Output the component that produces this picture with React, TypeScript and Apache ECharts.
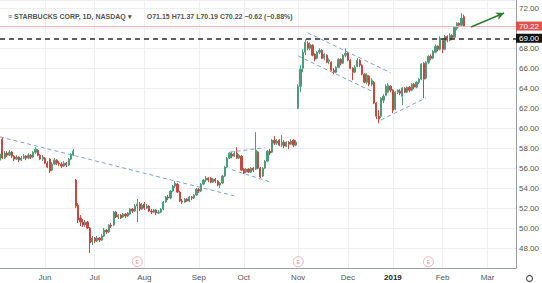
import React, { useEffect, useRef } from 'react';
import * as echarts from 'echarts';

// ---- categories (trading days) ----
const HOLIDAYS = ['2018-05-28', '2018-07-04', '2018-09-03', '2018-11-22', '2018-12-05', '2018-12-25', '2019-01-01', '2019-01-21', '2019-02-18'];
const FIRST_DAY = '2018-05-04';
const LAST_DAY = '2019-03-19';
const MONTH_STARTS = ['2018-06-01', '2018-07-02', '2018-08-01', '2018-09-04', '2018-10-01', '2018-11-01', '2018-12-03', '2019-01-02', '2019-02-01', '2019-03-01'];
const MONTH_LABELS = ['Jun', 'Jul', 'Aug', 'Sep', 'Oct', 'Nov', 'Dec', '2019', 'Feb', 'Mar'];

// ---- OHLC: [open, close, low, high] ----
const OHLC: number[][] = [
  [56.8, 57.4, 56.5, 57.6], [58.9, 57.0, 56.9, 59.1], [57.0, 57.5, 56.9, 57.7], [57.5, 57.3, 57.1, 57.7],
  [57.3, 57.6, 57.2, 57.8], [57.6, 57.2, 57.0, 57.7], [57.2, 56.9, 56.7, 57.3], [56.9, 57.1, 56.8, 57.3],
  [57.1, 56.8, 56.6, 57.2], [56.8, 57.0, 56.7, 57.2], [57.0, 57.2, 56.9, 57.4], [57.2, 57.0, 56.8, 57.3],
  [57.0, 57.3, 56.9, 57.5], [57.3, 57.1, 56.9, 57.4], [57.1, 57.6, 57.0, 57.7], [57.6, 57.9, 57.4, 58.1],
  [57.8, 57.3, 57.2, 57.9], [57.3, 56.9, 56.8, 57.4], [56.9, 57.1, 56.7, 57.3], [57.0, 56.5, 56.4, 57.1],
  [56.5, 56.1, 56.0, 56.7], [56.9, 55.7, 55.5, 57.0], [55.8, 56.4, 55.7, 56.6], [56.4, 56.8, 56.3, 57.0],
  [56.8, 56.5, 56.3, 56.9], [56.5, 56.4, 56.2, 56.7], [56.4, 56.2, 56.0, 56.6], [56.2, 56.5, 56.1, 56.7],
  [56.5, 56.3, 56.1, 56.6], [56.3, 56.9, 56.2, 57.0], [56.9, 57.4, 56.8, 57.5], [57.3, 57.7, 57.2, 57.9],
  [54.8, 52.2, 52.0, 54.9], [52.3, 50.8, 50.5, 52.5], [51.0, 50.6, 50.2, 51.3], [50.6, 50.3, 50.1, 50.9],
  [50.3, 50.6, 50.1, 50.8], [50.6, 50.0, 49.9, 50.7], [50.0, 48.5, 47.5, 50.1], [48.6, 49.0, 48.3, 49.2],
  [49.0, 48.7, 48.5, 49.1], [48.7, 49.0, 48.6, 49.2], [49.0, 48.8, 48.6, 49.1], [48.8, 49.2, 48.7, 49.4],
  [49.2, 49.8, 49.1, 50.0], [49.8, 49.6, 49.4, 49.9], [49.6, 50.3, 49.5, 50.4], [50.3, 50.2, 50.0, 50.5],
  [50.3, 51.6, 50.2, 51.7], [51.6, 51.1, 51.0, 51.7], [51.1, 51.3, 50.9, 51.4], [51.3, 51.0, 50.9, 51.4],
  [51.1, 51.4, 51.0, 51.5], [51.4, 51.2, 51.0, 51.5], [51.2, 51.5, 51.1, 51.6], [51.4, 51.9, 51.3, 52.0],
  [51.9, 51.7, 51.5, 52.0], [51.7, 52.2, 51.6, 52.4], [52.2, 52.4, 50.6, 52.9], [52.4, 51.9, 51.7, 52.6],
  [51.9, 52.3, 51.8, 52.5], [52.4, 52.0, 51.8, 52.6], [52.0, 52.2, 51.9, 52.4], [52.2, 51.7, 51.6, 52.3],
  [51.7, 51.6, 51.4, 51.9], [51.6, 51.8, 51.5, 51.9], [51.8, 51.5, 51.3, 51.9], [51.5, 51.6, 51.4, 51.8],
  [51.6, 51.9, 51.5, 52.0], [51.9, 52.6, 51.8, 52.7], [52.6, 53.1, 52.5, 53.2], [53.1, 53.0, 52.8, 53.3],
  [53.0, 53.7, 52.9, 53.8], [53.7, 54.2, 53.6, 54.3], [54.2, 54.5, 54.0, 54.7], [54.4, 53.6, 53.5, 54.5],
  [53.6, 52.7, 52.6, 53.7], [52.7, 52.6, 52.4, 52.9], [52.6, 52.9, 52.5, 53.0], [52.9, 52.7, 52.6, 53.0],
  [52.7, 53.1, 52.6, 53.2], [53.1, 53.0, 52.8, 53.2], [53.0, 53.3, 52.9, 53.4], [53.3, 53.9, 53.2, 54.0],
  [53.9, 53.7, 53.5, 54.0], [53.7, 54.4, 53.6, 54.5], [54.4, 54.8, 54.3, 54.9], [54.8, 55.0, 54.6, 55.2],
  [55.0, 54.8, 54.6, 55.1], [55.0, 54.6, 54.5, 55.1], [54.6, 54.9, 54.5, 55.0], [54.9, 54.7, 54.5, 55.0],
  [54.7, 54.3, 54.2, 54.8], [54.3, 54.5, 54.0, 54.6], [54.5, 55.2, 54.4, 55.3], [55.2, 56.1, 55.1, 56.2],
  [56.1, 57.0, 56.0, 57.1], [57.0, 57.5, 56.9, 57.6], [57.4, 57.2, 57.0, 57.6], [57.2, 57.5, 57.1, 57.7],
  [57.5, 57.0, 56.9, 58.1], [57.0, 57.3, 56.9, 57.4], [57.2, 55.8, 55.7, 57.3], [55.9, 55.5, 55.4, 56.0],
  [55.6, 55.9, 55.5, 56.0], [55.9, 55.6, 55.5, 56.0], [55.6, 56.0, 55.5, 56.1], [56.0, 55.8, 55.6, 56.1],
  [55.9, 57.8, 55.8, 59.6], [57.6, 56.0, 55.9, 57.7], [56.0, 55.1, 55.0, 56.1], [55.2, 56.0, 55.1, 56.1],
  [56.0, 56.7, 55.9, 56.8], [56.7, 57.7, 56.6, 57.8], [57.7, 57.5, 57.3, 57.9], [57.6, 58.8, 57.5, 58.9],
  [58.8, 58.5, 58.3, 59.2], [58.5, 58.7, 58.3, 58.9], [58.8, 58.3, 58.2, 58.9], [58.3, 58.6, 58.1, 59.3],
  [58.6, 58.2, 58.0, 58.8], [58.2, 58.6, 58.1, 58.7], [58.6, 58.4, 57.9, 58.7], [58.4, 58.7, 58.3, 58.9],
  [58.8, 58.3, 58.1, 58.9], [58.3, 58.6, 58.2, 58.8], [62.0, 64.2, 61.9, 64.4], [64.2, 65.9, 63.6, 66.3],
  [66.0, 67.6, 65.6, 67.9], [67.6, 68.6, 67.3, 68.9], [68.5, 68.0, 67.8, 68.7], [68.0, 68.4, 67.8, 68.6],
  [68.3, 67.3, 67.2, 68.4], [67.4, 66.9, 66.7, 67.5], [67.0, 67.6, 66.9, 67.7], [67.6, 67.8, 67.4, 68.0],
  [67.8, 67.0, 66.9, 67.9], [67.0, 67.4, 66.8, 67.5], [67.3, 66.6, 66.5, 67.4], [66.7, 66.8, 66.4, 67.0],
  [66.6, 65.8, 65.7, 66.7], [65.8, 65.6, 65.4, 66.0], [65.6, 66.1, 65.5, 66.2], [66.1, 66.9, 66.0, 67.0],
  [66.9, 66.5, 66.3, 67.0], [66.5, 67.3, 66.4, 67.4], [67.3, 67.5, 67.1, 68.0], [67.5, 66.8, 66.7, 67.6],
  [66.8, 66.0, 65.9, 66.9], [66.0, 65.6, 64.8, 66.1], [65.6, 66.1, 65.5, 66.3], [66.2, 66.8, 66.1, 67.0],
  [66.8, 66.3, 66.1, 66.9], [66.3, 65.4, 65.3, 66.4], [65.4, 64.6, 64.5, 65.5], [64.6, 65.3, 64.4, 65.5],
  [65.2, 64.4, 64.2, 65.3], [64.4, 64.8, 64.2, 65.0], [64.6, 62.5, 62.4, 64.7], [62.5, 61.2, 60.9, 62.6],
  [61.2, 60.9, 60.5, 61.8], [61.2, 63.0, 61.0, 63.1], [62.8, 63.2, 62.5, 63.4], [63.3, 64.2, 63.2, 64.4],
  [63.6, 64.3, 63.5, 64.5], [64.2, 63.8, 63.6, 64.3], [63.8, 61.8, 61.5, 63.9], [61.9, 63.6, 61.8, 63.7],
  [63.6, 63.8, 63.4, 63.9], [63.7, 63.5, 63.3, 63.9], [63.2, 64.0, 62.3, 64.1], [64.0, 63.6, 63.5, 64.1],
  [63.6, 64.1, 63.5, 64.2], [64.1, 63.8, 63.6, 64.2], [63.8, 64.4, 63.7, 64.5], [64.4, 64.1, 63.9, 64.5],
  [64.1, 64.6, 64.0, 64.7], [64.6, 64.9, 64.4, 65.0], [64.9, 66.4, 64.8, 66.5], [66.5, 64.9, 63.0, 66.6],
  [65.0, 66.6, 64.9, 66.7], [66.6, 67.2, 66.4, 67.3], [67.2, 67.0, 66.8, 67.4], [67.0, 67.7, 66.9, 67.8],
  [67.6, 68.2, 67.5, 68.4], [68.2, 67.9, 67.7, 68.3], [67.9, 69.0, 67.8, 69.2], [68.8, 67.9, 67.5, 68.9],
  [67.9, 69.2, 67.8, 69.3], [69.2, 68.8, 68.6, 69.3], [68.8, 69.3, 68.7, 69.5], [69.3, 69.0, 68.8, 69.4],
  [69.1, 70.1, 69.0, 70.2], [70.0, 70.5, 69.8, 70.6], [70.5, 70.3, 70.1, 70.6], [70.3, 71.0, 70.2, 71.5],
  [71.15, 70.22, 70.19, 71.37],
];

const LAST_PRICE = 70.22;
const RESISTANCE = 69.0;
const Y_MIN = 46;
const Y_MAX = 72.83;
const Y_STEP = 2;

// trendlines: [startIndex, startPrice, endIndex, endPrice]
const TRENDLINES = [
  [0, 59.13, 99, 53.22],
  [97, 57.6, 112, 58.05],
  [98, 55.83, 114, 54.63],
  [130, 69.55, 165, 65.55],
  [126, 67.23, 157, 63.7],
  [161, 60.83, 180, 63.03],
];
const ARROW = [199, 70.13, 213, 71.53];
const EARNINGS_DAYS = [58, 126, 181];
const EARNINGS_Y = 46.63;

const TITLE_NAME = '≡ STARBUCKS CORP, 1D, NASDAQ ▾';
const TITLE_VALUES = 'O71.15 H71.37 L70.19 C70.22 −0.62 (−0.88%)';

function buildTradingDays(first: string, last: string): string[] {
  const out: string[] = [];
  const d = new Date(first + 'T00:00:00Z');
  const end = new Date(last + 'T00:00:00Z').getTime();
  while (d.getTime() <= end) {
    const dow = d.getUTCDay();
    const s = d.toISOString().slice(0, 10);
    if (dow !== 0 && dow !== 6 && HOLIDAYS.indexOf(s) < 0) out.push(s);
    d.setUTCDate(d.getUTCDate() + 1);
  }
  return out;
}

const FONT = 'Liberation Sans, Arial, sans-serif';
const UP = '#4e9b7b';
const DOWN = '#c8483f';

export default function App() {
  const ref = useRef<HTMLDivElement>(null);
  useEffect(() => {
    if (!ref.current) return;
    const chart = echarts.init(ref.current, undefined, { renderer: 'svg' });
    const dates = buildTradingDays(FIRST_DAY, LAST_DAY);
    const isMonth = (_i: number, v: string) => MONTH_STARTS.indexOf(v) >= 0;

    const trendData: any[] = TRENDLINES.map((t) => [
      { coord: [t[0], t[1]], symbol: 'none', lineStyle: { color: '#7ea3d4', type: [4, 3], width: 1 }, label: { show: false } },
      { coord: [t[2], t[3]], symbol: 'none' },
    ]);

    const option: any = {
      animation: false,
      backgroundColor: '#ffffff',
      textStyle: { fontFamily: FONT },
      grid: { left: 0, right: 24, top: 0, bottom: 15, containLabel: false },
      title: {
        text: '{n|' + TITLE_NAME + '}   {v|' + TITLE_VALUES + '}',
        left: 3,
        top: 2,
        textStyle: {
          rich: {
            n: { fontSize: 7, color: '#555', fontFamily: FONT },
            v: { fontSize: 7, color: '#555', fontFamily: FONT },
          },
        },
      },
      xAxis: {
        type: 'category',
        data: dates,
        boundaryGap: false,
        axisLine: { show: true, lineStyle: { color: '#9a9ea8', width: 1 } },
        axisTick: { show: false },
        axisLabel: {
          interval: isMonth,
          margin: 5,
          fontSize: 8,
          color: '#555',
          fontFamily: FONT,
          formatter: (v: string) => {
            const k = MONTH_STARTS.indexOf(v);
            if (k < 0) return '';
            const t = MONTH_LABELS[k];
            return /^\d{4}$/.test(t) ? '{y|' + t + '}' : t;
          },
          rich: { y: { fontSize: 8, color: '#222', fontWeight: 'bold', fontFamily: FONT } },
        },
        splitLine: { show: true, interval: isMonth, lineStyle: { color: '#eceef2', width: 1 } },
      },
      yAxis: {
        type: 'value',
        position: 'right',
        min: Y_MIN,
        max: Y_MAX,
        interval: Y_STEP,
        scale: true,
        axisLine: { show: true, lineStyle: { color: '#9a9ea8', width: 1 } },
        axisTick: { show: false },
        axisLabel: {
          margin: 3,
          fontSize: 8,
          color: '#555',
          fontFamily: FONT,
          formatter: (v: number) => {
            const r = Math.round(v);
            if (Math.abs(v - r) > 1e-6 || r % 2 !== 0 || r <= Y_MIN || r === 70) return '';
            return v.toFixed(2);
          },
        },
        splitLine: { show: true, lineStyle: { color: '#eceef2', width: 1 } },
      },
      series: [
        {
          type: 'candlestick',
          data: OHLC,
          barWidth: 1.7,
          itemStyle: { color: UP, color0: DOWN, borderColor: UP, borderColor0: DOWN, borderWidth: 1 },
          markLine: {
            silent: true,
            symbol: ['none', 'none'],
            animation: false,
            label: { show: false },
            data: [
              {
                yAxis: LAST_PRICE,
                lineStyle: { color: '#f3b3b0', type: 'solid', width: 1 },
                label: {
                  show: true, position: 'end', distance: 0, formatter: LAST_PRICE.toFixed(2),
                  backgroundColor: '#e2504c', color: '#fff', fontSize: 8, padding: [1, 3, 0, 3], fontFamily: FONT,
                },
              },
              {
                yAxis: RESISTANCE,
                lineStyle: { color: '#2b2b2b', type: [5, 4], width: 1.5 },
                label: {
                  show: true, position: 'end', distance: 0, formatter: RESISTANCE.toFixed(2),
                  backgroundColor: '#131313', color: '#fff', fontSize: 8, padding: [1, 3, 0, 3], fontFamily: FONT,
                },
              },
              ...trendData,
              [
                { coord: [ARROW[0], ARROW[1]], symbol: 'none', lineStyle: { color: '#2e7d32', type: 'solid', width: 1.6 }, label: { show: false } },
                { coord: [ARROW[2], ARROW[3]], symbol: 'arrow', symbolSize: [6, 8] },
              ],
            ],
          },
        },
        {
          type: 'scatter',
          data: EARNINGS_DAYS.map((i) => [i, EARNINGS_Y]),
          symbol: 'circle',
          symbolSize: 10,
          itemStyle: { color: '#ffffff', borderColor: '#eea0a0', borderWidth: 1 },
          label: { show: true, position: 'inside', formatter: 'E', fontSize: 5, color: '#e07070', fontFamily: FONT },
          silent: true,
          z: 5,
        },
      ],
      graphic: [
        { type: 'circle', left: 524, top: 273, shape: { r: 3 }, style: { fill: 'none', stroke: '#555', lineWidth: 1.2 } },
      ],
    };
    chart.setOption(option);
    return () => chart.dispose();
  }, []);
  return <div ref={ref} style={{ width: 542, height: 283, position: 'absolute', left: 0, top: 0 }} />;
}
